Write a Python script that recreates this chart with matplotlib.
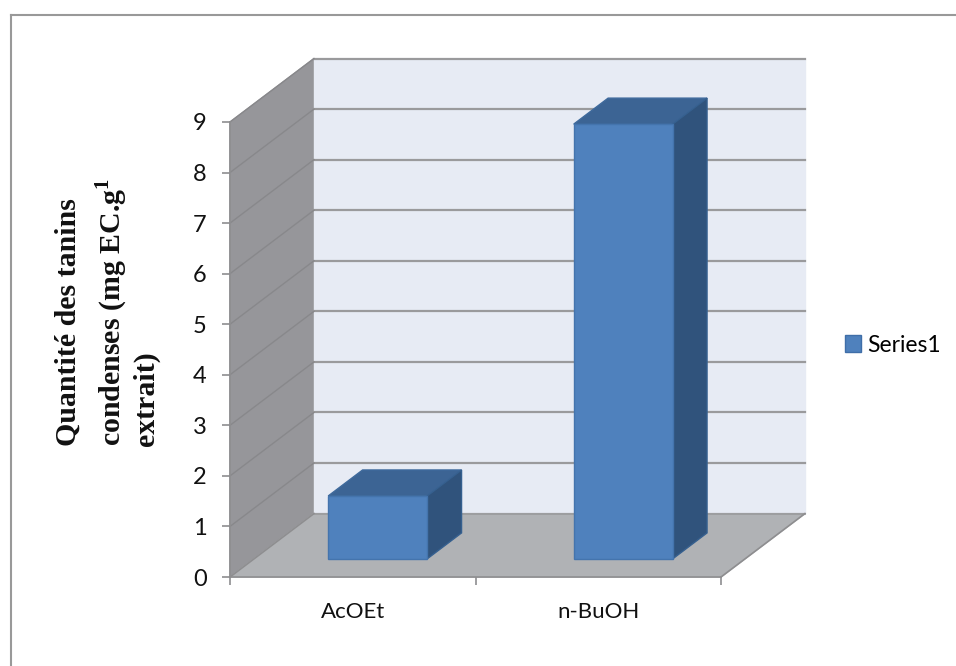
import matplotlib
matplotlib.use('Agg')
import matplotlib.pyplot as plt
from matplotlib.lines import Line2D
from matplotlib.patches import Patch

categories = ['AcOEt', 'n-BuOH']
values = [1.245, 8.6]
yticks = [0, 1, 2, 3, 4, 5, 6, 7, 8, 9]
series_name = 'Series1'
ylabel_lines = ['Quantité des tanins', r'condenses (mg EC.g$^{\mathbf{1}}$', 'extrait)']

# fake 3d: how far the back wall is shifted, in data units
DX = 0.342
DY = 1.255
BAR_W = 0.403
D_FRONT = 0.285
D_BACK = 0.695
BAR_SHIFT = 0.504

plt.rcParams['font.family'] = 'Lato'
plt.rcParams['mathtext.fontset'] = 'custom'
plt.rcParams['mathtext.bf'] = 'Liberation Serif:bold'

W, H = 956, 666
fig = plt.figure(figsize=(W / 100, H / 100), dpi=100)
ax = fig.add_axes([230 / W, (H - 577) / H, 491 / W, 455 / H])
ax.set_xlim(0, 2)
ax.set_ylim(0, 9)


def proj(x, y, d):
    return x + d * DX, y + d * DY


def poly(pts, color, edge=None, z=1):
    xs = [p[0] for p in pts]
    ys = [p[1] for p in pts]
    ax.fill(xs, ys, facecolor=color, edgecolor=edge if edge else color, lw=1, zorder=z, clip_on=False)


# walls and floor
poly([proj(0, 0, 0), proj(0, 0, 1), proj(0, 9, 1), proj(0, 9, 0)], '#96969a', z=1)
poly([proj(0, 0, 1), proj(2, 0, 1), proj(2, 9, 1), proj(0, 9, 1)], '#e7ebf4', z=1)
poly([proj(0, 0, 0), proj(2, 0, 0), proj(2, 0, 1), proj(0, 0, 1)], '#b0b2b5', z=1)

for v in yticks[1:]:
    a, b = proj(0, v, 1), proj(2, v, 1)
    ax.plot([a[0], b[0]], [a[1], b[1]], color='#9a9a9c', lw=1.6, zorder=2, clip_on=False)
    c = proj(0, v, 0)
    ax.plot([c[0], a[0]], [c[1], a[1]], color='#88888b', lw=1.0, zorder=2, clip_on=False)
a, b = proj(0, 0, 1), proj(2, 0, 1)
ax.plot([a[0], b[0]], [a[1], b[1]], color='#9a9a9c', lw=1.2, zorder=2, clip_on=False)
c = proj(2, 0, 0)
ax.plot([c[0], b[0]], [c[1], b[1]], color='#8e8e90', lw=1.2, zorder=2, clip_on=False)
c = proj(0, 0, 0)
ax.plot([c[0], a[0]], [c[1], a[1]], color='#8e8e90', lw=1.2, zorder=2, clip_on=False)

# bars
for i, v in enumerate(values):
    x0 = i + BAR_SHIFT - BAR_W / 2
    x1 = i + BAR_SHIFT + BAR_W / 2
    poly([proj(x0, v, D_FRONT), proj(x1, v, D_FRONT), proj(x1, v, D_BACK), proj(x0, v, D_BACK)],
         '#3c6494', '#3f6a9c', z=3)
    poly([proj(x1, 0, D_FRONT), proj(x1, 0, D_BACK), proj(x1, v, D_BACK), proj(x1, v, D_FRONT)],
         '#30537c', '#36608f', z=3)
    poly([proj(x0, 0, D_FRONT), proj(x1, 0, D_FRONT), proj(x1, v, D_FRONT), proj(x0, v, D_FRONT)],
         '#4f81bd', '#4474ad', z=4)

for s in ['top', 'right']:
    ax.spines[s].set_visible(False)
for s in ['left', 'bottom']:
    ax.spines[s].set_color('#8e8e90')
    ax.spines[s].set_linewidth(1.2)
    ax.spines[s].set_zorder(5)

ax.set_yticks(yticks)
ax.set_yticklabels([str(t) for t in yticks])
ax.set_xticks([0, 1, 2])
ax.set_xticklabels([])
ax.set_xticks([0.5, 1.5], minor=True)
ax.set_xticklabels(categories, minor=True)
ax.tick_params(axis='y', length=5.8, width=1.2, color='#8e8e90', pad=11, labelsize=17, labelcolor='#111111')
ax.tick_params(axis='x', which='major', length=5.8, width=1.2, color='#8e8e90')
ax.tick_params(axis='x', which='minor', length=0, pad=18, labelsize=16, labelcolor='#111111')

# y title, three lines starting at the same height
for line, px in zip(ylabel_lines, [68, 112, 146]):
    fig.text(px / W, (H - 446) / H, line, rotation=90, ha='center', va='bottom', rotation_mode='default',
             family='Liberation Serif', weight='bold', fontsize=21.5, color='#111111')

ax.legend(handles=[Patch(facecolor='#4f81bd', edgecolor='#3f6ea8', label=series_name)],
          loc='center left', bbox_to_anchor=(840 / W, (H - 345) / H), bbox_transform=fig.transFigure,
          frameon=False, fontsize=16.5, handlelength=0.7, handleheight=0.7, handletextpad=0.3,
          borderaxespad=0, borderpad=0.2)

# outer frame of the chart
fig.add_artist(Line2D([11 / W, 11 / W], [(H - 15) / H, 0], color='#999999', lw=1.5))
fig.add_artist(Line2D([11 / W, 1], [(H - 15) / H, (H - 15) / H], color='#999999', lw=1.5))

fig.savefig('out.png', dpi=100)
